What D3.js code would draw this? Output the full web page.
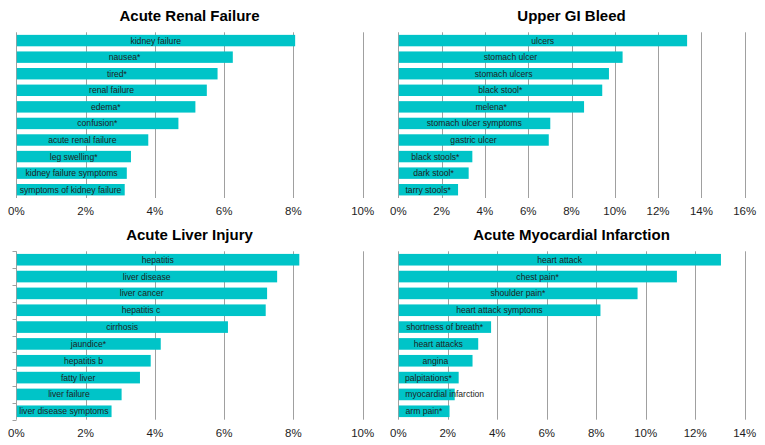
<!DOCTYPE html>
<html>
<head>
<meta charset="utf-8">
<script src="https://cdn.jsdelivr.net/npm/d3@7"></script>
<style>
  html, body { margin: 0; padding: 0; background: #fff; }
  svg { display: block; font-family: "Liberation Sans", Arial, sans-serif; }
</style>
</head>
<body>
<svg id="chart" width="765" height="445"></svg>
<script>
// ---- Data (percent of searches) ----
const arfTitle = "Acute Renal Failure";
const arfTerms = ["kidney failure", "nausea*", "tired*", "renal failure", "edema*", "confusion*",
  "acute renal failure", "leg swelling*", "kidney failure symptoms", "symptoms of kidney failure"];
const arfValues = [8.05, 6.25, 5.81, 5.5, 5.17, 4.68, 3.81, 3.31, 3.19, 3.13];
const arfTicks = [0, 2, 4, 6, 8, 10];

const ugibTitle = "Upper GI Bleed";
const ugibTerms = ["ulcers", "stomach ulcer", "stomach ulcers", "black stool*", "melena*",
  "stomach ulcer symptoms", "gastric ulcer", "black stools*", "dark stool*", "tarry stools*"];
const ugibValues = [13.34, 10.36, 9.73, 9.42, 8.58, 7.02, 6.95, 3.42, 3.25, 2.76];
const ugibTicks = [0, 2, 4, 6, 8, 10, 12, 14, 16];

const aliTitle = "Acute Liver Injury";
const aliTerms = ["hepatitis", "liver disease", "liver cancer", "hepatitis c", "cirrhosis",
  "jaundice*", "hepatitis b", "fatty liver", "liver failure", "liver disease symptoms"];
const aliValues = [8.17, 7.53, 7.24, 7.2, 6.11, 4.17, 3.88, 3.57, 3.04, 2.75];
const aliTicks = [0, 2, 4, 6, 8, 10];

const amiTitle = "Acute Myocardial Infarction";
const amiTerms = ["heart attack", "chest pain*", "shoulder pain*", "heart attack symptoms",
  "shortness of breath*", "heart attacks", "angina", "palpitations*", "myocardial infarction", "arm pain*"];
const amiValues = [13.04, 11.26, 9.67, 8.17, 3.75, 3.23, 3.0, 2.44, 2.28, 2.07];
const amiTicks = [0, 2, 4, 6, 8, 10, 12, 14];

// ---- Layout ----
const svg = d3.select("#chart");
const BAR = "#00C4C8";
const GRID = "#a0a0a0";
const TEXT = "#1e1e1e";

const panels = [
  { title: arfTitle, terms: arfTerms, values: arfValues, ticks: arfTicks, x0: 16.3, x1: 362.7, y0: 32.3, y1: 198, catTicks: false },
  { title: ugibTitle, terms: ugibTerms, values: ugibValues, ticks: ugibTicks, x0: 398.3, x1: 744.7, y0: 32.3, y1: 198, catTicks: false },
  { title: aliTitle, terms: aliTerms, values: aliValues, ticks: aliTicks, x0: 16.3, x1: 362.7, y0: 251.3, y1: 419.7, catTicks: true },
  { title: amiTitle, terms: amiTerms, values: amiValues, ticks: amiTicks, x0: 398.3, x1: 744.7, y0: 251.3, y1: 419.7, catTicks: false }
];

panels.forEach(p => {
  const g = svg.append("g");
  const x = d3.scaleLinear().domain([0, d3.max(p.ticks)]).range([p.x0, p.x1]);
  const y = d3.scaleBand().domain(p.terms).range([p.y0, p.y1]).paddingInner(0.31).paddingOuter(0.155);

  // title
  g.append("text")
    .attr("x", (p.x0 + p.x1) / 2)
    .attr("y", p.y0 - 11.5)
    .attr("text-anchor", "middle")
    .attr("font-size", 15)
    .attr("font-weight", "bold")
    .attr("fill", "#000")
    .text(p.title);

  // vertical gridlines (incl. axis at 0)
  g.append("g").selectAll("line").data(p.ticks).join("line")
    .attr("x1", d => Math.round(x(d)) + 0.5)
    .attr("x2", d => Math.round(x(d)) + 0.5)
    .attr("y1", p.y0)
    .attr("y2", p.y1)
    .attr("stroke", GRID)
    .attr("stroke-width", 1);

  // category tick marks on left axis
  if (p.catTicks) {
    const step = (p.y1 - p.y0) / p.terms.length;
    const bounds = d3.range(p.terms.length + 1).map(i => p.y0 + i * step);
    g.append("g").selectAll("line").data(bounds).join("line")
      .attr("x1", Math.round(p.x0) + 0.5 - 4)
      .attr("x2", Math.round(p.x0) + 0.5)
      .attr("y1", d => Math.round(d) + 0.5)
      .attr("y2", d => Math.round(d) + 0.5)
      .attr("stroke", GRID);
  }

  // x tick labels
  g.append("g").selectAll("text").data(p.ticks).join("text")
    .attr("x", d => x(d))
    .attr("y", p.y1 + 17)
    .attr("text-anchor", "middle")
    .attr("font-size", 11.5)
    .attr("fill", TEXT)
    .text(d => d + "%");

  // bars
  g.append("g").selectAll("rect").data(p.terms).join("rect")
    .attr("x", x(0) + 0.5)
    .attr("y", d => y(d))
    .attr("width", (d, i) => x(p.values[i]) - x(0) - 0.5)
    .attr("height", y.bandwidth())
    .attr("fill", BAR);

  // bar labels
  g.append("g").selectAll("text").data(p.terms).join("text")
    .attr("y", d => y(d) + y.bandwidth() / 2)
    .attr("dy", "0.35em")
    .attr("font-size", 8.6)
    .attr("fill", TEXT)
    .text(d => d)
    .each(function (d, i) {
      const w = this.getComputedTextLength();
      const bw = x(p.values[i]) - x(0);
      const el = d3.select(this);
      if (w + 4 <= bw) {
        el.attr("x", x(0) + bw / 2).attr("text-anchor", "middle");
      } else {
        el.attr("x", x(0) + 7).attr("text-anchor", "start");
      }
    });
});
</script>
</body>
</html>
